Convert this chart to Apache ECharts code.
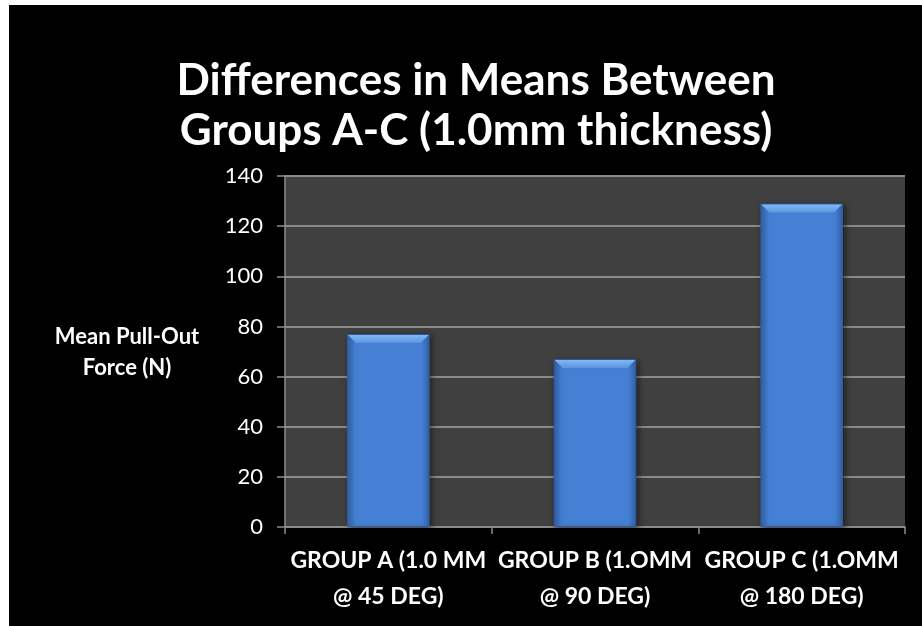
<!DOCTYPE html>
<html>
<head>
<meta charset="utf-8">
<script src="https://cdn.jsdelivr.net/npm/echarts@6/dist/echarts.min.js"></script>
<style>
html,body{margin:0;padding:0;background:#fff;width:922px;height:626px;overflow:hidden;}
#chart{position:absolute;left:9px;top:5px;width:913px;height:621px;background:#000;}
</style>
</head>
<body>
<div id="chart"></div>
<script>
const titleText = "Differences in Means Between\nGroups A-C (1.0mm thickness)";
const yAxisTitle = "Mean Pull-Out\nForce (N)";
const categories = ["GROUP A (1.0 MM\n@ 45 DEG)", "GROUP B (1.OMM\n@ 90 DEG)", "GROUP C (1.OMM\n@ 180 DEG)"];
const meanForce = [77, 67, 129];
const yMin = 0, yMax = 140, yStep = 20;

const FONT = "Lato";
const chart = echarts.init(document.getElementById('chart'), null, {renderer: 'canvas'});
chart.setOption({
  backgroundColor: '#000',
  animation: false,
  title: {
    text: titleText,
    left: 462, top: 46, textAlign: 'center',
    textStyle: {color: '#fff', fontFamily: FONT, fontWeight: 'bold', fontSize: 44, lineHeight: 50}
  },
  grid: {left: 276, right: 17, top: 171, bottom: 99, show: true, backgroundColor: '#404040', borderWidth: 0},
  xAxis: {
    type: 'category', data: categories,
    axisLine: {show: true, lineStyle: {color: '#8c8c8c', width: 1.5}},
    axisTick: {show: true, length: 7, lineStyle: {color: '#8c8c8c', width: 1.5}},
    axisLabel: {interval: 0, color: '#fff', fontFamily: FONT, fontWeight: 'bold', fontSize: 23, lineHeight: 36, margin: 16, align: 'center'}
  },
  yAxis: {
    type: 'value', min: yMin, max: yMax, interval: yStep,
    axisLine: {show: true, lineStyle: {color: '#8c8c8c', width: 1.5}},
    axisTick: {show: true, length: 8, lineStyle: {color: '#8c8c8c', width: 1.5}},
    splitLine: {show: true, lineStyle: {color: '#8a8a8a', width: 2}},
    axisLabel: {color: '#fff', fontFamily: FONT, fontSize: 22, margin: 22}
  },
  graphic: [{
    type: 'text',
    style: {text: yAxisTitle, x: 118, y: 347, fill: '#fff', font: 'bold 22px ' + FONT, textAlign: 'center', textVerticalAlign: 'middle', lineHeight: 31}
  }],
  series: [{
    type: 'bar', data: meanForce, barWidth: '40%',
    itemStyle: {
      color: new echarts.graphic.LinearGradient(0, 0, 1, 0, [
        {offset: 0, color: '#3463ab'},
        {offset: 0.1, color: '#4680d4'},
        {offset: 0.9, color: '#4680d4'},
        {offset: 1, color: '#3463ab'}
      ]),
      borderColor: '#2f5a9c', borderWidth: 1,
      shadowColor: 'rgba(0,0,0,0.5)', shadowBlur: 6, shadowOffsetX: 2, shadowOffsetY: 2
    }
  }, {
    type: 'custom', data: meanForce, z: 3,
    renderItem: function (params, api) {
      const top = api.coord([api.value(0), api.value(1)]);
      const w = api.size([1, 0])[0] * 0.4;
      const x0 = top[0] - w / 2, x1 = top[0] + w / 2, y = top[1];
      const b = 9;
      return {
        type: 'polygon',
        shape: {points: [[x0 + 1, y + 1], [x1 - 1, y + 1], [x1 - b, y + b], [x0 + b, y + b]]},
        style: {fill: new echarts.graphic.LinearGradient(0, 0, 0, 1, [
          {offset: 0, color: '#80b8f5'},
          {offset: 1, color: '#5b95e0'}
        ])}
      };
    },
    encode: {x: 0, y: 1}
  }]
});
</script>
</body>
</html>
